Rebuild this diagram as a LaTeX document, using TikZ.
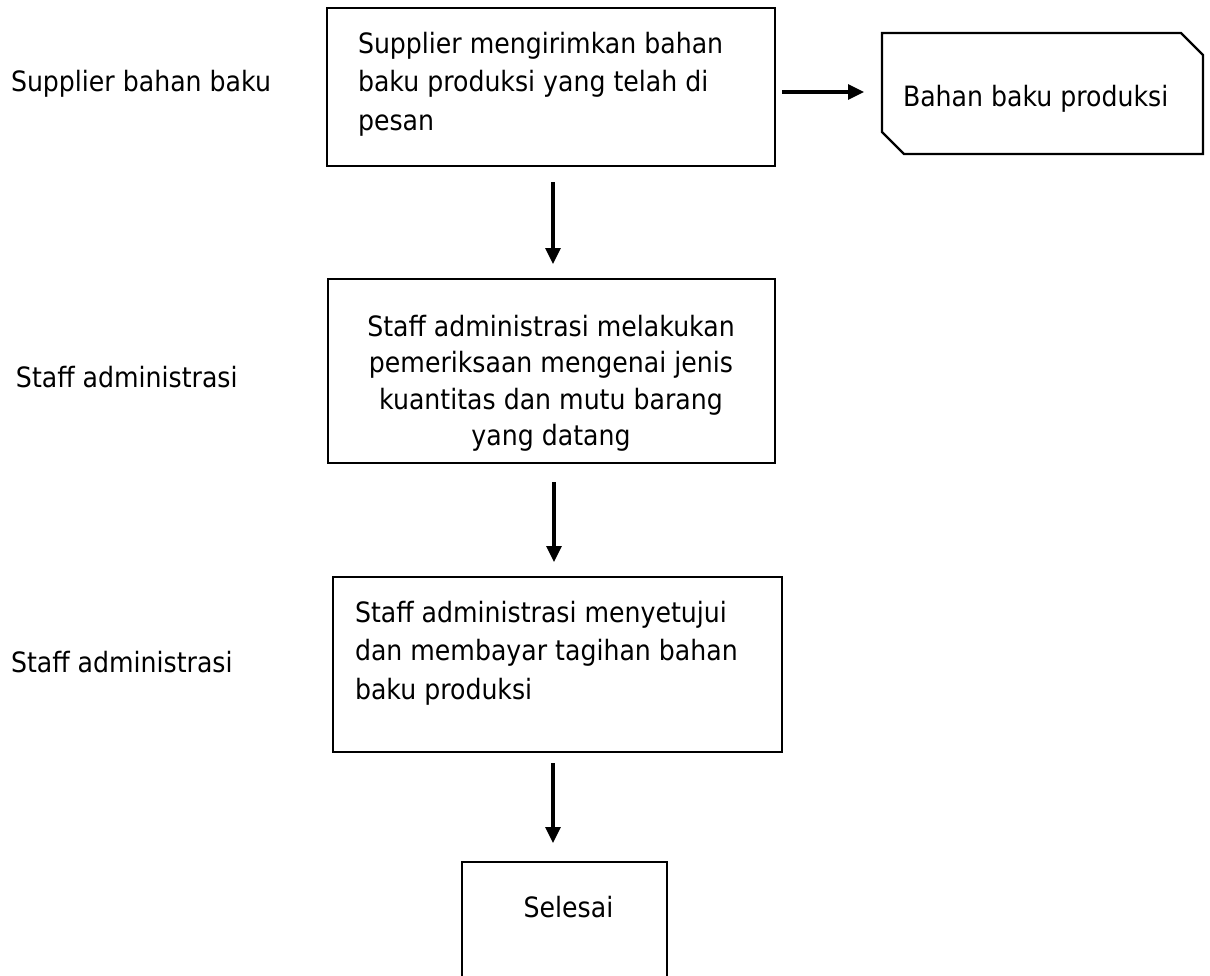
\documentclass[tikz,border=0pt]{standalone}
\usepackage{fontspec}
\setmainfont{DejaVu Sans}[FakeStretch=0.9]
\usetikzlibrary{arrows.meta}
\begin{document}
\begin{tikzpicture}[x=1pt,y=-1pt,
  every node/.style={inner sep=0pt, outer sep=0pt},
  txt/.style={font=\fontsize{28}{38.5}\selectfont},
  txtb/.style={font=\fontsize{28}{36.5}\selectfont},
  box/.style={draw, line width=2.2pt, rectangle, anchor=north west},
  arr/.style={line width=3.2pt, -{Triangle[length=16pt,width=15pt]}}]
\useasboundingbox (0,0) rectangle (1210,975);
% boxes
\node[box, minimum width=448pt, minimum height=158pt] (b1) at (327,8) {};
\node[box, minimum width=447pt, minimum height=184pt] (b2) at (328,279) {};
\node[box, minimum width=449pt, minimum height=175pt] (b3) at (333,577) {};
\node[box, minimum width=205pt, minimum height=140pt] (b4) at (462,862) {};
% document shape
\node[rectangle, anchor=north west, minimum width=321pt, minimum height=121pt] (doc) at (882,33) {};
\draw[line width=2.2pt, line join=miter]
  (doc.north west) -- ([xshift=-22pt]doc.north east) -- ([yshift=-22pt]doc.north east)
  -- (doc.south east) -- ([xshift=22pt]doc.south west) -- ([yshift=22pt]doc.south west) -- cycle;
% texts in boxes
\node[txt, align=left, anchor=north west] (t1) at (358,32) {Supplier mengirimkan bahan\\baku produksi yang telah di\\pesan};
\node[txtb, align=center, anchor=north] (t2) at (551,315) {Staff administrasi melakukan\\pemeriksaan mengenai jenis\\kuantitas dan mutu barang\\yang datang};
\node[txt, align=left, anchor=north west] (t3) at (355,601) {Staff administrasi menyetujui\\dan membayar tagihan bahan\\baku produksi};
\node[txt, anchor=base] (t4) at (568.5,917) {Selesai};
\node[txt, anchor=base west] (td) at (903,106) {Bahan baku produksi};
% lane labels
\node[txt, anchor=base west] (l1) at (11,91) {Supplier bahan baku};
\node[txt, anchor=base west] (l2) at (16,387) {Staff administrasi};
\node[txt, anchor=base west] (l3) at (11,672) {Staff administrasi};
% arrows
\draw[arr] ([xshift=7pt,yshift=-5pt]b1.east) -- ([xshift=-18pt,yshift=1.5pt]doc.west);
\draw[arr] ([xshift=2pt,yshift=-16pt]b1.south) -- ([xshift=1.5pt,yshift=15pt]b2.north);
\draw[arr] ([xshift=2.5pt,yshift=-19pt]b2.south) -- ([xshift=-3.5pt,yshift=15pt]b3.north);
\draw[arr] ([xshift=-4.5pt,yshift=-11pt]b3.south) -- ([xshift=-11.5pt,yshift=19pt]b4.north);
\end{tikzpicture}
\end{document}
